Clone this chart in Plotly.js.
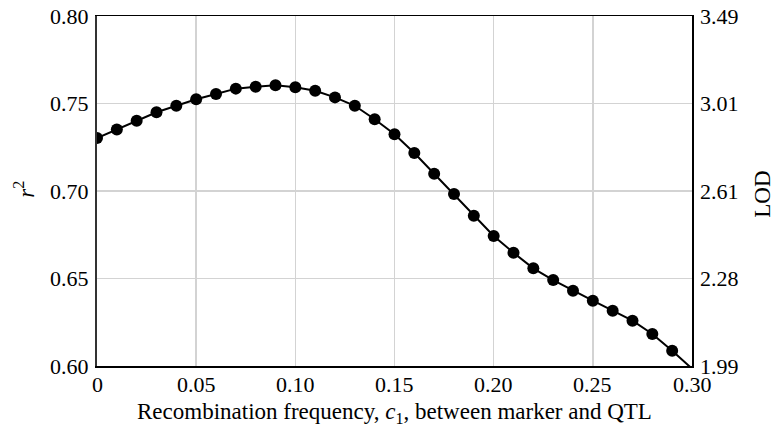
<!DOCTYPE html>
<html>
<head>
<meta charset="utf-8">
<script src="https://cdn.plot.ly/plotly-3.0.1.min.js"></script>
<style>
html,body{margin:0;padding:0;background:#fff;}
#chart{width:775px;height:432px;}
</style>
</head>
<body>
<div id="chart"></div>
<script>
// Recombination frequency c1 (markers)
var cMarkers = [0.00,0.01,0.02,0.03,0.04,0.05,0.06,0.07,0.08,0.09,0.10,0.11,0.12,0.13,0.14,0.15,0.16,0.17,0.18,0.19,0.20,0.21,0.22,0.23,0.24,0.25,0.26,0.27,0.28,0.29];
var r2Markers = [0.7303,0.7352,0.7402,0.7450,0.7487,0.7524,0.7554,0.7585,0.7596,0.7604,0.7593,0.7573,0.7535,0.7487,0.7410,0.7324,0.7217,0.7099,0.6983,0.6859,0.6743,0.6647,0.6558,0.6491,0.6430,0.6373,0.6316,0.6259,0.6183,0.6087];
// line continues to the right edge
var cLineEnd = 0.30;
var r2LineEnd = 0.5985;

var xTickVals = [0,0.05,0.10,0.15,0.20,0.25,0.30];
var xTickText = ['0','0.05','0.10','0.15','0.20','0.25','0.30'];
var yTickVals = [0.60,0.65,0.70,0.75,0.80];
var yTickText = ['0.60','0.65','0.70','0.75','0.80'];
var lodTickText = ['1.99','2.28','2.61','3.01','3.49'];

var xTitle = 'Recombination frequency, <i>c</i><sub>1</sub>, between marker and QTL';
var yTitle = '<i>r</i><sup>2</sup>';
var y2Title = 'LOD';

function tf(s) { return {family:'Liberation Serif, serif', size:s, color:'#000'}; }

var traces = [
  {x: cMarkers.concat([cLineEnd]), y: r2Markers.concat([r2LineEnd]), mode:'lines',
   line:{color:'#000', width:2}, hoverinfo:'skip', showlegend:false},
  {x: cMarkers, y: r2Markers, mode:'markers',
   marker:{color:'#000', size:12}, showlegend:false},
  {x: [cMarkers[0]], y: [r2Markers[0]], yaxis:'y2', mode:'markers',
   marker:{opacity:0}, hoverinfo:'skip', showlegend:false}
];

// tick labels drawn as annotations anchored to the axes' own scales
var annots = [];
xTickVals.forEach(function(v, i){
  annots.push({text:xTickText[i], xref:'x', yref:'paper', x:v, y:0, xanchor:'center', yanchor:'middle',
    yshift:-18, showarrow:false, font:tf(22)});
});
yTickVals.forEach(function(v, i){
  annots.push({text:yTickText[i], xref:'paper', yref:'y', x:0, y:v, xanchor:'right', yanchor:'middle',
    xshift:-6, showarrow:false, font:tf(22)});
  annots.push({text:lodTickText[i], xref:'paper', yref:'y', x:1, y:v, xanchor:'left', yanchor:'middle',
    xshift:6, showarrow:false, font:tf(22)});
});
annots.push({text:xTitle, xref:'paper', yref:'paper', x:0.5008, y:-0.134, xanchor:'center', yanchor:'middle',
  showarrow:false, font:tf(23)});
annots.push({text:yTitle, xref:'paper', yref:'paper', x:-0.122, y:0.505, xanchor:'center', yanchor:'middle',
  textangle:-90, showarrow:false, font:tf(23)});
annots.push({text:y2Title, xref:'paper', yref:'paper', x:1.118, y:0.49, xanchor:'center', yanchor:'middle',
  textangle:-90, showarrow:false, font:tf(23)});

var layout = {
  width:775, height:432,
  margin:{l:97, r:83, t:16, b:66},
  paper_bgcolor:'#fff', plot_bgcolor:'#fff',
  font:tf(22),
  showlegend:false,
  xaxis:{range:[0,0.30], tickvals:xTickVals, showticklabels:false,
    showgrid:true, gridcolor:'#d3d3d3', gridwidth:1.5, zeroline:false,
    showline:true, linecolor:'#000', linewidth:1.5, mirror:true, ticks:''},
  yaxis:{range:[0.60,0.80], tickvals:yTickVals, showticklabels:false,
    showgrid:true, gridcolor:'#d3d3d3', gridwidth:1.5, zeroline:false,
    showline:true, linecolor:'#333', linewidth:2, mirror:false, ticks:''},
  yaxis2:{range:[0.60,0.80], overlaying:'y', side:'right', tickvals:yTickVals, showticklabels:false,
    showgrid:false, zeroline:false, showline:true, linecolor:'#000', linewidth:1.5, ticks:''},
  annotations:annots
};

Plotly.newPlot('chart', traces, layout, {displayModeBar:false, staticPlot:true});
</script>
</body>
</html>
